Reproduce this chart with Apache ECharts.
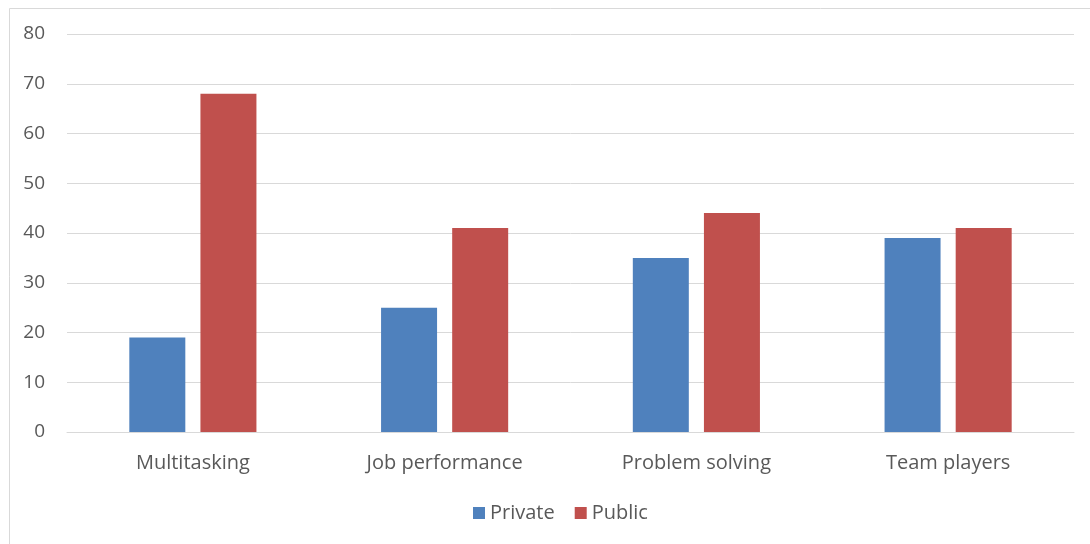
<!DOCTYPE html>
<html>
<head>
<meta charset="utf-8">
<script src="https://cdn.jsdelivr.net/npm/echarts@6/dist/echarts.min.js"></script>
<style>html,body{margin:0;padding:0;background:#fff}#c{width:1090px;height:544px}</style>
</head>
<body>
<div id="c"></div>
<script>
const categories = ["Multitasking", "Job performance", "Problem solving", "Team players"];
const privateValues = [19, 25, 35, 39];
const publicValues = [68, 41, 44, 41];
const yTicks = { min: 0, max: 80, interval: 10 };

const chart = echarts.init(document.getElementById('c'), null, { renderer: 'canvas' });
const font = '"Open Sans", "Liberation Sans", sans-serif';
chart.setOption({
  animation: false,
  backgroundColor: '#fff',
  textStyle: { fontFamily: font },
  graphic: [{
    type: 'rect', left: 7, top: 6,
    shape: { width: 1100, height: 600 },
    style: { fill: 'none', stroke: '#d9d9d9', lineWidth: 1 }, silent: true
  }],
  grid: { left: 67, right: 16, top: 34, bottom: 112, containLabel: false },
  legend: {
    data: ['Private', 'Public'],
    bottom: 16, left: 468,
    itemWidth: 12, itemHeight: 12, itemGap: 20,
    icon: 'rect',
    textStyle: { color: '#595959', fontSize: 20, fontFamily: font }
  },
  xAxis: {
    type: 'category', data: categories,
    axisLine: { lineStyle: { color: '#d9d9d9', width: 1 } },
    axisTick: { show: false },
    axisLabel: { color: '#595959', fontSize: 20, margin: 21, fontFamily: font }
  },
  yAxis: {
    type: 'value', min: yTicks.min, max: yTicks.max, interval: yTicks.interval,
    axisLine: { show: false }, axisTick: { show: false },
    splitLine: { lineStyle: { color: '#d9d9d9', width: 1 } },
    axisLabel: { color: '#595959', fontSize: 19, margin: 22, fontFamily: font }
  },
  series: [
    { name: 'Private', type: 'bar', data: privateValues, barWidth: 56, barGap: '27%',
      itemStyle: { color: '#4F81BD' } },
    { name: 'Public', type: 'bar', data: publicValues, barWidth: 56,
      itemStyle: { color: '#C0504D' } }
  ]
});
</script>
</body>
</html>
